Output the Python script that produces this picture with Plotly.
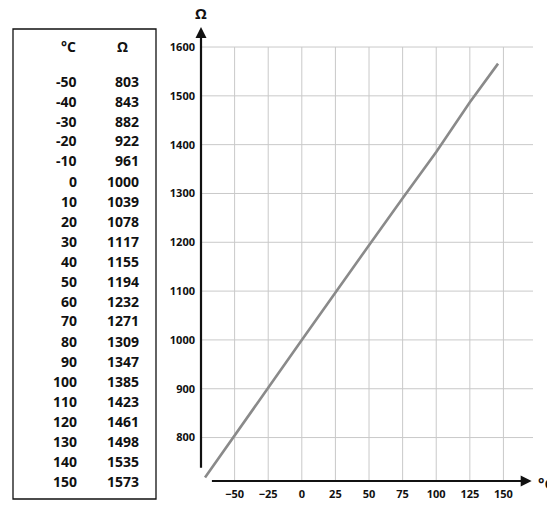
import plotly.graph_objects as go

# table values
table_temp = [-50, -40, -30, -20, -10, 0, 10, 20, 30, 40, 50, 60, 70, 80, 90, 100, 110, 120, 130, 140, 150]
table_res = [803, 843, 882, 922, 961, 1000, 1039, 1078, 1117, 1155, 1194, 1232, 1271, 1309, 1347, 1385, 1423, 1461, 1498, 1535, 1573]

# plotted line (it stops short of 150)
line_temp = [-72, -50, -25, 0, 25, 50, 75, 100, 125, 146]
line_res = [718, 803, 902, 1000, 1098, 1194, 1290, 1385, 1487, 1566]

x_ticks = [-50, -25, 0, 25, 50, 75, 100, 125, 150]
y_ticks = [800, 900, 1000, 1100, 1200, 1300, 1400, 1500, 1600]

W, H = 555, 521
L, R, T, B = 193, 30, 19, 48
SHIFT = 9  # rendered offset correction
X0, X1 = -75, 172
Y0, Y1 = 711, 1641


def px(x):
    return (x - L) / (W - L - R)


def py(y):
    return (H - B - (y - SHIFT)) / (H - T - B)


fig = go.Figure()
fig.add_trace(go.Scatter(x=line_temp, y=line_res, mode="lines",
                         line=dict(color="#8a8a8a", width=2.6), hoverinfo="skip"))

shapes = []
# grid
for t in x_ticks:
    shapes.append(dict(type="line", xref="x", yref="y", x0=t, x1=t, y0=Y0, y1=1600,
                       line=dict(color="#c9c9c9", width=1), layer="below"))
for r in y_ticks:
    shapes.append(dict(type="line", xref="x", yref="y", x0=X0, x1=X1, y0=r, y1=r,
                       line=dict(color="#c9c9c9", width=1), layer="below"))
# table box
shapes.append(dict(type="rect", xref="paper", yref="paper", x0=px(5), x1=px(148),
                   y0=py(500), y1=py(30), line=dict(color="#111", width=1.3)))


def label(x, y, text, size=14, xanchor="right"):
    return dict(x=px(x), y=py(y), xref="paper", yref="paper", text=f"<b>{text}</b>",
                showarrow=False, xanchor=xanchor, yanchor="middle",
                font=dict(size=size, color="#111"))


annotations = [
    # y axis arrow
    dict(x=X0, y=Y1, ax=X0, ay=735, xref="x", yref="y", axref="x", ayref="y",
         showarrow=True, arrowhead=2, arrowsize=1, arrowwidth=2.2, arrowcolor="#111", text=""),
    # x axis arrow
    dict(x=171, y=Y0, ax=-68, ay=Y0, xref="x", yref="y", axref="x", ayref="y",
         showarrow=True, arrowhead=2, arrowsize=1, arrowwidth=2.2, arrowcolor="#111", text=""),
    label(193, 14, "Ω", 15, "center"),
    label(538, 484, "°C", 15, "center"),
    label(70, 47, "°C"),
    label(122, 47, "Ω"),
]
for i, (t, r) in enumerate(zip(table_temp, table_res)):
    annotations.append(label(71, 82 + 20 * i, t))
    annotations.append(label(133, 82 + 20 * i, r))

fig.update_layout(
    width=W, height=H, margin=dict(l=L, r=R, t=T, b=B),
    paper_bgcolor="white", plot_bgcolor="white", showlegend=False,
    font=dict(family="Open Sans", color="#111"),
    shapes=shapes, annotations=annotations,
    xaxis=dict(range=[X0, X1], tickvals=x_ticks, showgrid=False, zeroline=False, showline=False,
               tickfont=dict(size=11, family="Open Sans", weight="bold"), ticks="", ticklabelstandoff=5),
    yaxis=dict(range=[Y0, Y1], tickvals=y_ticks, showgrid=False, zeroline=False, showline=False,
               tickfont=dict(size=11, family="Open Sans", weight="bold"), ticks="", ticklabelstandoff=5),
)

fig.write_html("out.html")
